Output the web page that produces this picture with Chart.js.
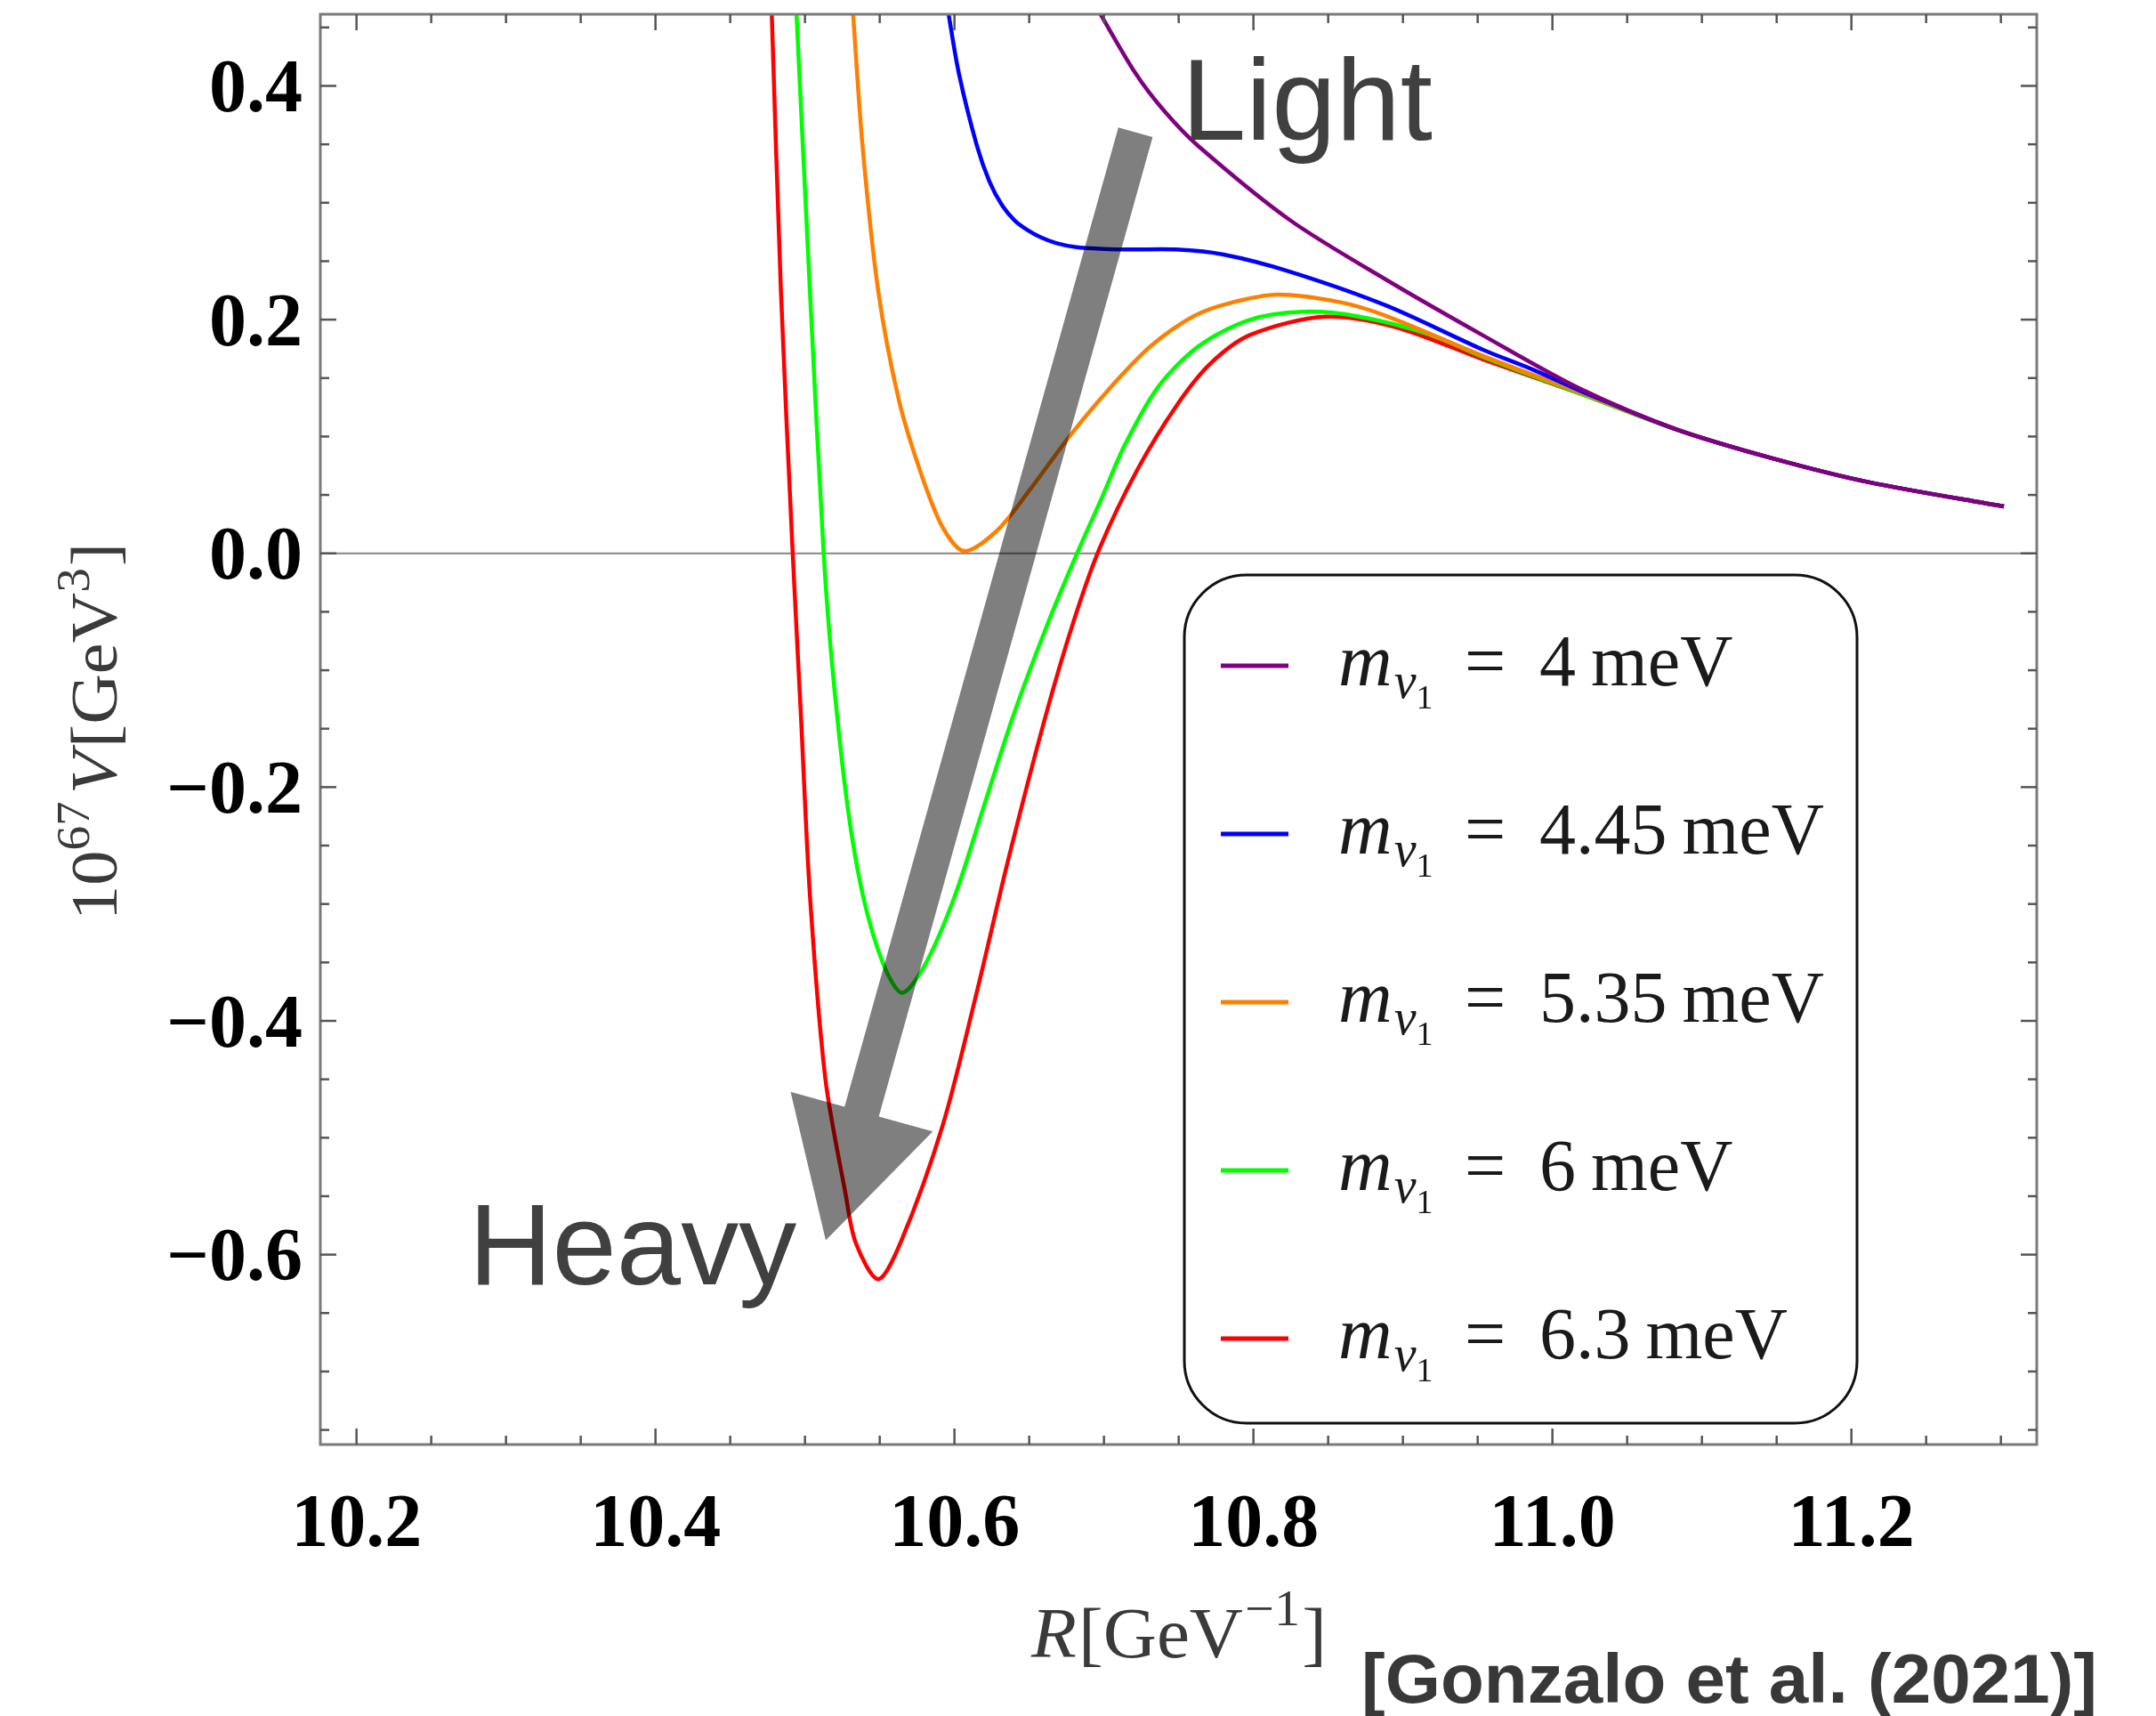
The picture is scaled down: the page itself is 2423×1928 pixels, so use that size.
<!DOCTYPE html>
<html lang="en">
<head>
<meta charset="UTF-8">
<title>Potential V(R) for several lightest neutrino masses</title>
<script src="https://cdn.jsdelivr.net/npm/chart.js"></script>
<style>
  html, body { margin: 0; padding: 0; background: #fff; overflow: hidden; }
  canvas { display: block; }
</style>
</head>
<body>
<canvas id="potChart" width="2423" height="1928"></canvas>
<script>
// lightest neutrino mass (meV) per curve, and the curve colours
const masses = ['4', '4.45', '5.35', '6', '6.3'];
const colors = ['#800080', '#0000ff', '#ff8000', '#00ff00', '#ff0000'];

// R [GeV^-1] and 10^67 V [GeV^3]
const rPurple = [10.6960, 10.721, 10.740, 10.7627, 10.8246, 10.889, 10.9536, 11.018, 11.083, 11.147, 11.212, 11.302];
const vPurple = [0.465, 0.411, 0.379, 0.349, 0.285, 0.234, 0.1865, 0.1412, 0.1061, 0.0814, 0.0608, 0.0401];

const rBlue = [10.5956, 10.6029, 10.615, 10.6235, 10.632, 10.6405, 10.649, 10.6576, 10.668, 10.6818, 10.700, 10.718, 10.748, 10.780, 10.8246, 10.889, 10.9536, 10.986, 11.018, 11.083, 11.147, 11.212, 11.302];
const vBlue = [0.465, 0.411, 0.3488, 0.3178, 0.2975, 0.2845, 0.2765, 0.2705, 0.2655, 0.2619, 0.2605, 0.260, 0.260, 0.2557, 0.241, 0.212, 0.1742, 0.1577, 0.1395, 0.106, 0.0814, 0.0608, 0.0401];

const rOrange = [10.532, 10.5385, 10.549, 10.5628, 10.5774, 10.592, 10.6065, 10.6284, 10.650, 10.677, 10.703, 10.731, 10.760, 10.785, 10.816, 10.857, 10.889, 10.9536, 11.018, 11.083, 11.147, 11.212, 11.302];
const vOrange = [0.465, 0.3488, 0.2246, 0.1313, 0.0692, 0.0226, 0.002, 0.0194, 0.0537, 0.1003, 0.140, 0.177, 0.203, 0.2145, 0.2215, 0.2152, 0.2031, 0.169, 0.138, 0.106, 0.0814, 0.0608, 0.0401];

const rGreen = [10.4942, 10.5033, 10.5125, 10.5185, 10.5285, 10.539, 10.5528, 10.5649, 10.580, 10.600, 10.6196, 10.6393, 10.662, 10.682, 10.6996, 10.714, 10.736, 10.763, 10.797, 10.833, 10.870, 10.918, 10.9536, 11.018, 11.083, 11.147, 11.212, 11.302];
const vGreen = [0.465, 0.2246, 0.0, -0.100, -0.2166, -0.294, -0.3527, -0.376, -0.3527, -0.294, -0.2166, -0.139, -0.0613, 0.0, 0.0506, 0.093, 0.142, 0.177, 0.1997, 0.2068, 0.2028, 0.1873, 0.168, 0.137, 0.106, 0.0814, 0.0608, 0.0401];

const rRed = [10.4777, 10.4839, 10.4918, 10.4973, 10.5034, 10.5137, 10.527, 10.534, 10.549, 10.5645, 10.592, 10.615, 10.636, 10.661, 10.679, 10.697, 10.7225, 10.7494, 10.7713, 10.798, 10.848, 10.895, 10.9536, 11.018, 11.083, 11.147, 11.212, 11.302];
const vRed = [0.465, 0.2246, 0.0, -0.139, -0.294, -0.450, -0.547, -0.590, -0.621, -0.588, -0.490, -0.375, -0.262, -0.139, -0.061, 0.004, 0.072, 0.128, 0.1625, 0.187, 0.2025, 0.1936, 0.166, 0.137, 0.106, 0.0814, 0.0608, 0.0401];

// axes
const xTicks = [10.2, 10.4, 10.6, 10.8, 11.0, 11.2];
const yTicks = [-0.6, -0.4, -0.2, 0.0, 0.2, 0.4];
const xRange = [10.1758, 11.324];
const yRange = [-0.7625, 0.4613];

// "Light" -> "Heavy" arrow and its labels, in data coordinates
const arrowFrom = [10.7211, 0.3603];
const arrowTo = [10.5139, -0.5877];
const lightAt = [10.752, 0.3537];
const heavyAt = [10.275, -0.6254];

const SERIF = '"Liberation Serif", "Times New Roman", serif';
const SANS = '"Liberation Sans", Arial, sans-serif';

const series = [
  [rPurple, vPurple], [rBlue, vBlue], [rOrange, vOrange], [rGreen, vGreen], [rRed, vRed]
];

function runsWidth(ctx, runs) {
  let w = 0;
  runs.forEach(r => { ctx.font = r.font; w += ctx.measureText(r.t).width + (r.gap || 0); });
  return w;
}
function drawRuns(ctx, runs, x, y) {
  let cx = x;
  runs.forEach(r => {
    ctx.font = r.font;
    ctx.fillText(r.t, cx, y + (r.dy || 0));
    cx += ctx.measureText(r.t).width + (r.gap || 0);
  });
}

const decor = {
  id: 'decor',
  beforeDatasetsDraw(chart) {
    const {ctx, chartArea: a, scales: {y}} = chart;
    const y0 = y.getPixelForValue(0);
    ctx.save();
    ctx.strokeStyle = '#858585';
    ctx.lineWidth = 2;
    ctx.beginPath();
    ctx.moveTo(a.left, y0);
    ctx.lineTo(a.right, y0);
    ctx.stroke();
    ctx.restore();
  },
  afterDatasetsDraw(chart) {
    const {ctx, scales: {x, y}} = chart;
    ctx.save();

    // arrow (semi transparent, so crossed curves darken)
    const p0 = [x.getPixelForValue(arrowFrom[0]), y.getPixelForValue(arrowFrom[1])];
    const p1 = [x.getPixelForValue(arrowTo[0]), y.getPixelForValue(arrowTo[1])];
    const dx = p1[0] - p0[0], dy = p1[1] - p0[1];
    const len = Math.hypot(dx, dy);
    const ux = dx / len, uy = dy / len, nx = -uy, ny = ux;
    const headLen = 150, headHalf = 83, shaftHalf = 20;
    const bx = p1[0] - ux * headLen, by = p1[1] - uy * headLen;
    ctx.fillStyle = 'rgba(0,0,0,0.5)';
    ctx.beginPath();
    ctx.moveTo(p0[0] + nx * shaftHalf, p0[1] + ny * shaftHalf);
    ctx.lineTo(bx + nx * shaftHalf, by + ny * shaftHalf);
    ctx.lineTo(bx + nx * headHalf, by + ny * headHalf);
    ctx.lineTo(p1[0], p1[1]);
    ctx.lineTo(bx - nx * headHalf, by - ny * headHalf);
    ctx.lineTo(bx - nx * shaftHalf, by - ny * shaftHalf);
    ctx.lineTo(p0[0] - nx * shaftHalf, p0[1] - ny * shaftHalf);
    ctx.closePath();
    ctx.fill();

    ctx.fillStyle = '#404040';
    ctx.font = '130px ' + SANS;
    ctx.textBaseline = 'alphabetic';
    ctx.textAlign = 'left';
    ctx.fillText('Light', x.getPixelForValue(lightAt[0]), y.getPixelForValue(lightAt[1]));
    ctx.fillText('Heavy', x.getPixelForValue(heavyAt[0]), y.getPixelForValue(heavyAt[1]));

    // legend box
    const L = 1331, T = 646, R = 2087, B = 1599, rad = 70;
    ctx.beginPath();
    ctx.moveTo(L + rad, T);
    ctx.arcTo(R, T, R, B, rad);
    ctx.arcTo(R, B, L, B, rad);
    ctx.arcTo(L, B, L, T, rad);
    ctx.arcTo(L, T, R, T, rad);
    ctx.closePath();
    ctx.fillStyle = '#fff';
    ctx.fill();
    ctx.strokeStyle = '#111';
    ctx.lineWidth = 3;
    ctx.stroke();

    chart.data.datasets.forEach((ds, i) => {
      const ry = 748 + i * 189;
      ctx.strokeStyle = ds.borderColor;
      ctx.lineWidth = 5;
      ctx.beginPath();
      ctx.moveTo(1372, ry);
      ctx.lineTo(1448, ry);
      ctx.stroke();

      const tx = 1504, base = ry + 22;
      ctx.fillStyle = '#1a1a1a';
      drawRuns(ctx, [
        {t: 'm', font: 'italic 84px ' + SERIF, gap: 2},
        {t: 'ν', font: 'italic 56px ' + SERIF, dy: 14},
        {t: '1', font: '38px ' + SERIF, dy: 26}
      ], tx, base);
      ctx.font = '82px ' + SERIF;
      ctx.fillText('=', tx + 142, base);
      const mw = ctx.measureText(masses[i]).width;
      ctx.fillText(masses[i], tx + 226, base);
      ctx.fillText('meV', tx + 226 + mw + 17, base);
    });
    ctx.restore();
  },
  afterDraw(chart) {
    const {ctx, chartArea: a, scales: {x, y}} = chart;
    ctx.save();

    // frame
    ctx.strokeStyle = '#7a7a7a';
    ctx.lineWidth = 3;
    ctx.strokeRect(a.left, a.top, a.right - a.left, a.bottom - a.top);

    // inward ticks on all four sides
    ctx.strokeStyle = '#555';
    ctx.lineWidth = 2.5;
    const tick = (x1, y1, x2, y2) => { ctx.beginPath(); ctx.moveTo(x1, y1); ctx.lineTo(x2, y2); ctx.stroke(); };
    for (let k = Math.ceil(xRange[0] / 0.05); k * 0.05 <= xRange[1]; k++) {
      const px = x.getPixelForValue(k * 0.05);
      const len = (k % 4 === 0) ? 18 : 10;
      tick(px, a.bottom, px, a.bottom - len);
      tick(px, a.top, px, a.top + len);
    }
    for (let k = Math.ceil(yRange[0] / 0.05); k * 0.05 <= yRange[1]; k++) {
      const py = y.getPixelForValue(k * 0.05);
      const len = (k % 4 === 0) ? 18 : 10;
      tick(a.left, py, a.left + len, py);
      tick(a.right, py, a.right - len, py);
    }

    // y axis title, rotated
    ctx.fillStyle = '#3a3a3a';
    ctx.textAlign = 'left';
    ctx.textBaseline = 'alphabetic';
    const S = 74;
    const yRuns = [
      {t: '10', font: S + 'px ' + SERIF},
      {t: '67', font: Math.round(S * 0.7) + 'px ' + SERIF, dy: -0.42 * S, gap: 8},
      {t: 'V', font: 'italic ' + S + 'px ' + SERIF, gap: 4},
      {t: '[GeV', font: S + 'px ' + SERIF},
      {t: '3', font: Math.round(S * 0.7) + 'px ' + SERIF, dy: -0.42 * S, gap: 2},
      {t: ']', font: S + 'px ' + SERIF}
    ];
    const yw = runsWidth(ctx, yRuns);
    ctx.save();
    ctx.translate(131, 822);
    ctx.rotate(-Math.PI / 2);
    ctx.scale(424 / yw, 1);
    drawRuns(ctx, yRuns, -yw / 2, 0);
    ctx.restore();

    // x axis title
    const X = 80;
    const xRuns = [
      {t: 'R', font: 'italic ' + X + 'px ' + SERIF, gap: 2},
      {t: '[GeV', font: X + 'px ' + SERIF, gap: 2},
      {t: '−1', font: Math.round(X * 0.7) + 'px ' + SERIF, dy: -0.45 * X, gap: 2},
      {t: ']', font: X + 'px ' + SERIF}
    ];
    const xw = runsWidth(ctx, xRuns);
    ctx.save();
    ctx.translate(1159, 1862);
    ctx.scale(332 / xw, 1);
    drawRuns(ctx, xRuns, 0, 0);
    ctx.restore();

    // citation
    ctx.fillStyle = '#383838';
    ctx.font = 'bold 78px ' + SANS;
    const cite = '[Gonzalo et al. (2021)]';
    const cw = ctx.measureText(cite).width;
    ctx.save();
    ctx.translate(1530, 1913);
    ctx.scale(827 / cw, 1);
    ctx.fillText(cite, 0, 0);
    ctx.restore();

    ctx.restore();
  }
};

const datasets = series.map(([r, v], i) => ({
  label: 'm_ν1 = ' + masses[i] + ' meV',
  data: r.map((rv, j) => ({x: rv, y: v[j]})),
  borderColor: colors[i],
  borderWidth: 4.5,
  pointRadius: 0,
  fill: false,
  tension: 0.3,
  clip: 0
}));

new Chart(document.getElementById('potChart').getContext('2d'), {
  type: 'line',
  data: { datasets },
  options: {
    responsive: false,
    animation: false,
    devicePixelRatio: 1,
    layout: { padding: { top: 16, right: 134, left: 0, bottom: 0 } },
    plugins: { legend: { display: false }, tooltip: { enabled: false } },
    scales: {
      x: {
        type: 'linear',
        min: xRange[0],
        max: xRange[1],
        grid: { display: false },
        border: { display: false },
        afterBuildTicks: s => { s.ticks = xTicks.map(v => ({value: v})); },
        afterFit: s => { s.height = 1928 - 1623; s.paddingLeft = 0; s.paddingRight = 0; },
        ticks: {
          autoSkip: false,
          maxRotation: 0,
          padding: 34,
          color: '#000',
          font: { family: SERIF, weight: 'bold', size: 84 },
          callback: v => v.toFixed(1)
        }
      },
      y: {
        type: 'linear',
        min: yRange[0],
        max: yRange[1],
        grid: { display: false },
        border: { display: false },
        afterBuildTicks: s => { s.ticks = yTicks.map(v => ({value: v})); },
        afterFit: s => { s.width = 360; s.paddingTop = 0; s.paddingBottom = 0; },
        ticks: {
          autoSkip: false,
          padding: 12,
          labelOffset: 7,
          color: '#000',
          font: { family: SERIF, weight: 'bold', size: 84 },
          callback: v => (v < 0 ? '−' : '') + Math.abs(v).toFixed(1)
        }
      }
    }
  },
  plugins: [decor]
});
</script>
</body>
</html>
